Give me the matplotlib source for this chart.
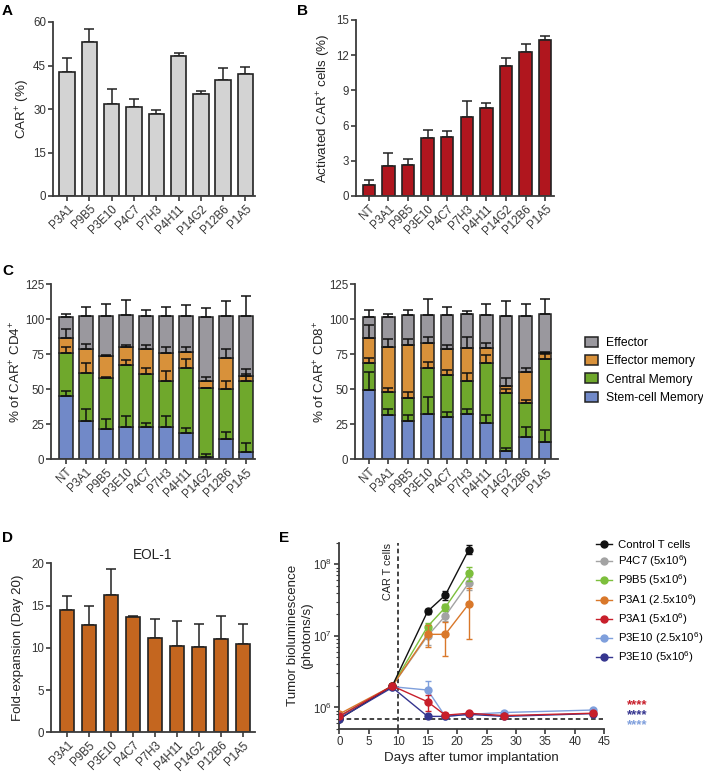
import numpy as np
import matplotlib
matplotlib.use("Agg")
import matplotlib.pyplot as plt
from matplotlib.patches import Patch
from matplotlib.ticker import LogLocator, NullFormatter

plt.rcParams['font.family'] = ['Liberation Sans', 'DejaVu Sans']
plt.rcParams['mathtext.fontset'] = 'custom'
plt.rcParams['mathtext.rm'] = 'Liberation Sans'
plt.rcParams['mathtext.default'] = 'regular'

# ---------------- data ----------------
clones_a = ["P3A1", "P9B5", "P3E10", "P4C7", "P7H3", "P4H11", "P14G2", "P12B6", "P1A5"]
car_pct = [42.9, 53.0, 31.6, 30.6, 28.4, 48.2, 35.3, 40.0, 42.2]
car_pct_err = [4.8, 4.6, 5.4, 2.7, 1.4, 1.0, 0.8, 4.0, 2.4]

clones_b = ["NT", "P3A1", "P9B5", "P3E10", "P4C7", "P7H3", "P4H11", "P14G2", "P12B6", "P1A5"]
activated = [0.95, 2.56, 2.67, 4.97, 5.03, 6.76, 7.47, 11.08, 12.25, 13.27]
activated_err = [0.45, 1.1, 0.5, 0.65, 0.5, 1.3, 0.45, 0.7, 0.7, 0.35]

subsets = ["Stem-cell Memory", "Central Memory", "Effector memory", "Effector"]
subset_colors = ["#7189c8", "#6fa82c", "#d8913a", "#9a989e"]

cd4_scm = [45.4, 27.4, 21.6, 22.9, 22.9, 23.3, 18.6, 1.9, 14.8, 5.5]
cd4_cm = [30.3, 34.5, 36.7, 44.5, 37.8, 32.9, 46.4, 48.8, 35.4, 50.7]
cd4_em = [10.7, 16.7, 15.3, 12.6, 17.9, 19.5, 11.6, 5.2, 21.9, 3.3]
cd4_eff = [15.0, 24.0, 28.5, 23.1, 24.0, 26.9, 26.0, 45.7, 30.5, 42.9]
cd4_scm_err = [3.2, 8.5, 7.0, 8.3, 3.3, 7.7, 3.8, 1.7, 4.7, 5.9]
cd4_cm_err = [4.3, 7.1, 0.7, 3.8, 4.3, 6.8, 7.0, 0.5, 5.8, 4.5]
cd4_em_err = [6.4, 3.5, 0.9, 1.5, 3.4, 4.3, 3.4, 2.7, 6.5, 4.8]
cd4_eff_err = [2.4, 6.4, 8.8, 10.7, 4.0, 6.0, 7.9, 6.5, 10.4, 14.5]

cd8_scm = [49.5, 31.3, 27.1, 32.6, 30.0, 32.1, 26.2, 5.7, 16.1, 12.6]
cd8_cm = [19.5, 17.0, 16.5, 32.9, 30.5, 23.6, 42.8, 41.4, 24.3, 58.8]
cd8_em = [17.9, 32.2, 38.3, 17.8, 18.1, 23.8, 10.7, 5.1, 22.0, 4.3]
cd8_eff = [15.0, 20.9, 21.0, 19.6, 24.3, 24.1, 23.2, 49.9, 39.7, 27.9]
cd8_scm_err = [13.1, 4.4, 4.3, 12.1, 3.6, 3.6, 5.7, 2.2, 6.8, 8.3]
cd8_cm_err = [3.4, 2.9, 4.4, 3.8, 3.3, 5.7, 5.7, 3.0, 2.0, 4.0]
cd8_em_err = [9.1, 5.2, 4.3, 4.3, 3.0, 7.6, 3.6, 5.6, 2.6, 1.2]
cd8_eff_err = [5.0, 2.4, 3.7, 11.8, 6.1, 2.6, 8.3, 10.9, 8.8, 11.1]

fold_exp = [14.5, 12.7, 16.25, 13.6, 11.2, 10.2, 10.15, 11.0, 10.4]
fold_exp_err = [1.6, 2.3, 3.1, 0.2, 2.2, 3.0, 2.65, 2.8, 2.4]

days_short = [0, 9, 15, 18, 22]
days_long = [0, 9, 15, 18, 22, 28, 43]
ctrl = [6.9e5, 2.0e6, 2.2e7, 3.7e7, 1.6e8]
ctrl_err = [3e4, 1e5, 1.5e6, 5e6, 2.3e7]
p4c7 = [7.5e5, 2.0e6, 1.0e7, 1.9e7, 5.5e7]
p4c7_err = [3e4, 1e5, 2.5e6, 3e6, 1.2e7]
p9b5 = [7.5e5, 2.0e6, 1.35e7, 2.5e7, 7.5e7]
p9b5_err = [3e4, 1e5, 1.5e6, 3e6, 1.7e7]
p3a1_lo = [8.1e5, 2.0e6, 1.05e7, 1.05e7, 2.8e7]
p3a1_lo_err = [3e4, 1e5, 3.5e6, 5.3e6, 1.9e7]
p3a1_hi = [7.5e5, 2.0e6, 1.2e6, 7.8e5, 8.3e5, 7.7e5, 8.3e5]
p3a1_hi_err = [3e4, 1e5, 3e5, 5e4, 4e4, 3e4, 4e4]
p3e10_lo = [7.5e5, 1.95e6, 1.75e6, 7.5e5, 8.0e5, 8.5e5, 9.2e5]
p3e10_lo_err = [3e4, 1e5, 6e5, 4e4, 3e4, 3e4, 4e4]
p3e10_hi = [7.0e5, 1.9e6, 7.5e5, 7.5e5, 8.0e5, 7.5e5, 8.2e5]
p3e10_hi_err = [3e4, 1e5, 4e4, 3e4, 3e4, 3e4, 3e4]
baseline = 6.8e5
car_t_day = 10

AX = "#3a3a3a"
W, H = 703, 776
fig = plt.figure(figsize=(W / 100, H / 100), dpi=100)


def add_ax(l, r, t, b):
    return fig.add_axes([l / W, 1 - b / H, (r - l) / W, (b - t) / H])


def style(ax):
    for s in ["top", "right"]:
        ax.spines[s].set_visible(False)
    for s in ["left", "bottom"]:
        ax.spines[s].set_color(AX)
        ax.spines[s].set_linewidth(1.3)
    ax.tick_params(direction="out", length=3.5, width=1.2, color=AX,
                   labelsize=8.3, labelcolor="#333333", pad=1.5)


def bar_panel(ax, names, vals, errs, color, width, xlim, ylim, yticks, ylabel, labx):
    x = np.arange(len(names))
    ax.bar(x, vals, width=width, color=color, edgecolor="#222222", linewidth=1.2, zorder=2)
    ax.errorbar(x, vals, yerr=[np.zeros(len(vals)), errs], fmt="none",
                ecolor="#222222", elinewidth=1.1, capsize=3.5, capthick=1.1, zorder=1)
    ax.set_xlim(*xlim)
    ax.set_ylim(*ylim)
    ax.set_yticks(yticks)
    ax.set_xticks(x)
    ax.set_xticklabels(names, rotation=45, ha="right", rotation_mode="anchor")
    ax.set_ylabel(ylabel, fontsize=9.6, color="#222222")
    ax.yaxis.set_label_coords(labx, 0.5)
    style(ax)


def stacked_panel(ax, names, segs, errs, width, xlim, ylabel, labx):
    x = np.arange(len(names))
    bottom = np.zeros(len(names))
    for seg, err, col in zip(segs, errs, subset_colors):
        seg = np.array(seg)
        ax.bar(x, seg, bottom=bottom, width=width, color=col,
               edgecolor="#222222", linewidth=1.1, zorder=2)
        top = bottom + seg
        ax.errorbar(x, top, yerr=[np.zeros(len(x)), err], fmt="none",
                    ecolor="#111111", elinewidth=1.1, capsize=3.5, capthick=1.1, zorder=3)
        bottom = top
    ax.set_xlim(*xlim)
    ax.set_ylim(0, 125)
    ax.set_yticks([0, 25, 50, 75, 100, 125])
    ax.set_xticks(x)
    ax.set_xticklabels(names, rotation=45, ha="right", rotation_mode="anchor")
    ax.set_ylabel(ylabel, fontsize=9.6, color="#222222")
    ax.yaxis.set_label_coords(labx, 0.5)
    style(ax)


# A
ax_a = add_ax(53, 255, 22, 196)
bar_panel(ax_a, clones_a, car_pct, car_pct_err, "#d3d3d3", 0.69, (-0.63, 8.43),
          (0, 60), [0, 15, 30, 45, 60], "CAR$^{+}$ (%)", -0.105)

# B
ax_b = add_ax(356, 554, 20, 196)
bar_panel(ax_b, clones_b, activated, activated_err, "#b0161e", 0.63, (-0.65, 9.45),
          (0, 15), [0, 3, 6, 9, 12, 15], "Activated CAR$^{+}$ cells (%)", -0.115)

# C
ax_c4 = add_ax(51, 255, 284.3, 459.3)
stacked_panel(ax_c4, clones_b, [cd4_scm, cd4_cm, cd4_em, cd4_eff],
              [cd4_scm_err, cd4_cm_err, cd4_em_err, cd4_eff_err], 0.67, (-0.75, 9.45),
              "% of CAR$^{+}$ CD4$^{+}$", -0.135)
ax_c8 = add_ax(355, 558, 284.3, 459.3)
stacked_panel(ax_c8, clones_b, [cd8_scm, cd8_cm, cd8_em, cd8_eff],
              [cd8_scm_err, cd8_cm_err, cd8_em_err, cd8_eff_err], 0.63, (-0.7, 9.65),
              "% of CAR$^{+}$ CD8$^{+}$", -0.137)
handles = [Patch(facecolor=c, edgecolor="#222222", linewidth=1.1, label=l)
           for c, l in zip(subset_colors[::-1], subsets[::-1])]
fig.legend(handles=handles, loc="upper left", bbox_to_anchor=(585 / W, 1 - 337 / H),
           frameon=False, fontsize=8.7, handlelength=1.1, handleheight=0.9,
           handletextpad=0.6, labelspacing=0.5, borderaxespad=0, borderpad=0)

# D
ax_d = add_ax(51, 255, 563.3, 732.3)
bar_panel(ax_d, clones_a, fold_exp, fold_exp_err, "#c4661f", 0.64, (-0.73, 8.55),
          (0, 20), [0, 5, 10, 15, 20], "Fold-expansion (Day 20)", -0.13)
ax_d.set_title("EOL-1", fontsize=9.8, color="#222222", pad=3)

# E
ax_e = add_ax(339.3, 604.3, 542.7, 729)
series = [
    ("Control T cells", days_short, ctrl, ctrl_err, "#111111"),
    ("P4C7 (5x10$^{6}$)", days_short, p4c7, p4c7_err, "#a3a3a3"),
    ("P9B5 (5x10$^{6}$)", days_short, p9b5, p9b5_err, "#7dbf3c"),
    ("P3A1 (2.5x10$^{6}$)", days_short, p3a1_lo, p3a1_lo_err, "#d9782a"),
    ("P3A1 (5x10$^{6}$)", days_long, p3a1_hi, p3a1_hi_err, "#c81f2b"),
    ("P3E10 (2.5x10$^{6}$)", days_long, p3e10_lo, p3e10_lo_err, "#7f9fdc"),
    ("P3E10 (5x10$^{6}$)", days_long, p3e10_hi, p3e10_hi_err, "#35358f"),
]
z = [6, 3, 4, 5, 7, 5, 6]
for (lab, d, v, e, c), zz in zip(series, z):
    ax_e.errorbar(d, v, yerr=e, fmt="none", ecolor=c, elinewidth=1.0,
                  capsize=2.5, capthick=1.0, zorder=zz)
    ax_e.plot(d, v, "-o", color=c, markersize=5, linewidth=1.0, label=lab, zorder=zz)
ax_e.axvline(car_t_day, color="#111111", linestyle=(0, (3, 2)), linewidth=1.1, zorder=1)
ax_e.axhline(baseline, xmax=0.995, color="#111111", linestyle=(0, (3, 2)), linewidth=1.1, zorder=1)
ax_e.set_yscale("log")
ax_e.set_ylim(5.0e5, 2.0e8)
ax_e.set_xlim(0, 45)
ax_e.set_xticks(np.arange(0, 50, 5))
ax_e.yaxis.set_major_locator(LogLocator(base=10, numticks=10))
ax_e.yaxis.set_minor_locator(LogLocator(base=10, subs=np.arange(2, 10), numticks=10))
ax_e.yaxis.set_minor_formatter(NullFormatter())
style(ax_e)
ax_e.tick_params(axis="y", which="minor", length=2, width=0.8, color=AX)
ax_e.set_xlabel("Days after tumor implantation", fontsize=9.6, color="#222222", labelpad=3)
ax_e.set_ylabel("Tumor bioluminescence\n(photons/s)", fontsize=9.6, color="#222222")
ax_e.yaxis.set_label_coords(-0.1, 0.5)
ax_e.text(8.2, 8e7, "CAR T cells", rotation=90, ha="center", va="center",
          fontsize=7.8, color="#222222")
ax_e.legend(loc="upper left", bbox_to_anchor=(596 / W, 1 - 540 / H),
            bbox_transform=fig.transFigure, frameon=False, fontsize=8.2,
            handlelength=1.4, handletextpad=0.5, labelspacing=0.3,
            borderaxespad=0, borderpad=0)
for yy, c in zip([705, 715, 725], ["#c81f2b", "#35358f", "#7f9fdc"]):
    fig.text(637 / W, 1 - yy / H, "****", color=c, fontsize=9.5, ha="center", va="center",
             fontweight="bold")

for lab, x, y in [("A", 2, 4), ("B", 297, 4), ("C", 2, 264), ("D", 2, 531), ("E", 279, 531)]:
    fig.text(x / W, 1 - y / H, lab, fontsize=11, fontweight="bold", va="top", ha="left")

fig.savefig("out.png", dpi=100)
